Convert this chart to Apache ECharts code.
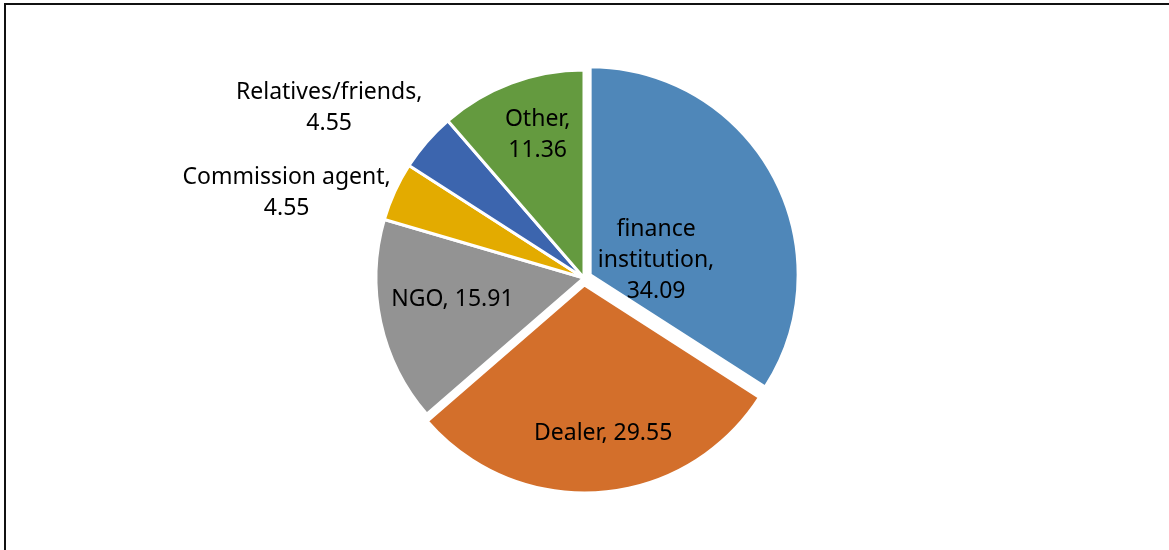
<!DOCTYPE html>
<html>
<head>
<meta charset="utf-8">
<script src="https://cdn.jsdelivr.net/npm/echarts@6/dist/echarts.min.js"></script>
<style>
  html, body { margin: 0; padding: 0; background: #fff; }
  #main { width: 1169px; height: 550px; }
</style>
</head>
<body>
<div id="main"></div>
<script>
// source shares, clockwise from 12 o'clock
var names = ['finance institution', 'Dealer', 'NGO', 'Commission agent', 'Relatives/friends', 'Other'];
var values = [34.09, 29.55, 15.91, 4.55, 4.55, 11.36];
var colors = ['#4F87B9', '#D36F2B', '#939393', '#E3AB00', '#3C65AE', '#649A3F'];
var exploded = [true, true, false, false, false, false];
// how each label is broken into lines
var labelHeads = ['finance\ninstitution,', 'Dealer,', 'NGO,', 'Commission agent,', 'Relatives/friends,', 'Other,'];
var labelSeps = ['\n', ' ', ' ', '\n', '\n', '\n'];
// nudges from the default inside position, to mimic Excel's label placement
var labelShift = [[-28, 37], [11, 42], [-27, -1], [-200, -41], [-174, -100], [-9, -43]];

var chart = echarts.init(document.getElementById('main'));

var pieData = values.map(function (v, i) {
  return {
    name: names[i],
    value: v,
    selected: exploded[i],
    itemStyle: { color: colors[i] },
    label: { offset: labelShift[i] },
    select: { label: { offset: labelShift[i] } }
  };
});

var option = {
  backgroundColor: '#fff',
  animation: false,
  graphic: [{
    type: 'rect',
    shape: { x: 5, y: 4, width: 1400, height: 800 },
    style: { fill: 'none', stroke: '#111', lineWidth: 2 },
    silent: true
  }],
  series: [{
    type: 'pie',
    center: [584, 278],
    radius: 208,
    startAngle: 90,
    clockwise: true,
    selectedMode: 'multiple',
    selectedOffset: 7,
    avoidLabelOverlap: false,
    itemStyle: { borderColor: '#fff', borderWidth: 3 },
    select: { itemStyle: { borderColor: '#fff', borderWidth: 3 } },
    emphasis: { disabled: true },
    label: {
      show: true,
      position: 'inside',
      color: '#000',
      fontFamily: '"Noto Sans", sans-serif',
      fontSize: 23,
      lineHeight: 31,
      align: 'center',
      formatter: function (p) {
        return labelHeads[p.dataIndex] + labelSeps[p.dataIndex] + p.value.toFixed(2);
      }
    },
    labelLine: { show: false },
    data: pieData
  }]
};

chart.setOption(option);
</script>
</body>
</html>
